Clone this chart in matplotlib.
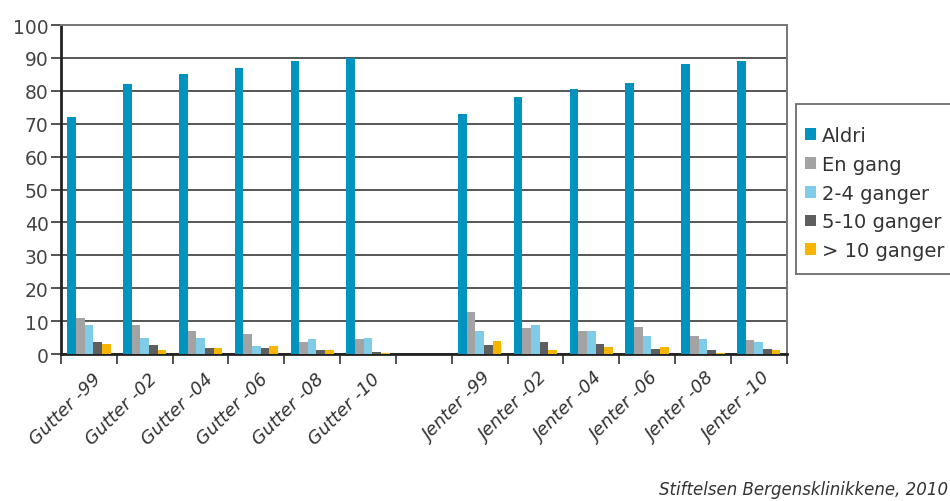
import matplotlib
matplotlib.use("Agg")
import matplotlib.pyplot as plt
import matplotlib.transforms as mtransforms
from matplotlib.patches import Rectangle
import numpy as np

categories = ["Gutter -99", "Gutter -02", "Gutter -04", "Gutter -06", "Gutter -08", "Gutter -10", "",
              "Jenter -99", "Jenter -02", "Jenter -04", "Jenter -06", "Jenter -08", "Jenter -10"]

series_names = ["Aldri", "En gang", "2-4 ganger", "5-10 ganger", "> 10 ganger"]

aldri = [72, 82, 85, 87, 89, 90, 0, 73, 78, 80.5, 82.3, 88.3, 89.2]
en_gang = [10.8, 8.7, 6.9, 6.2, 3.8, 4.5, 0, 12.7, 7.9, 7.0, 8.2, 5.5, 4.3]
to_fire = [8.9, 4.8, 4.8, 2.3, 4.5, 5.0, 0, 7.0, 8.7, 7.0, 5.4, 4.5, 3.8]
fem_ti = [3.8, 2.8, 1.8, 1.8, 1.3, 0.6, 0, 2.8, 3.8, 3.0, 1.5, 1.1, 1.5]
over_ti = [3.0, 1.1, 1.8, 2.3, 1.3, 0.3, 0, 4.0, 1.1, 2.0, 2.0, 0.3, 1.3]

series = [aldri, en_gang, to_fire, fem_ti, over_ti]
colors = ["#0093c0", "#a3a3a3", "#80cbe5", "#5e5e5e", "#f7b500"]

fig = plt.figure(figsize=(9.5, 5.02), dpi=100)
ax = fig.add_axes([0.0642, 0.2928, 0.7638, 0.6552])

x = np.arange(len(categories))
bw = 0.155
handles = []
for i, (vals, col, name) in enumerate(zip(series, colors, series_names)):
    h = ax.bar(x + (i - 2) * bw, vals, width=bw, color=col, label=name, zorder=3, linewidth=0)
    handles.append(h)

ax.set_xlim(-0.5, len(categories) - 0.5)
ax.set_ylim(0, 100)
ax.set_yticks(np.arange(0, 101, 10))
ax.yaxis.grid(True, color="#555555", linewidth=1.4, zorder=0)
ax.set_axisbelow(True)

# category labels, slanted and nudged so their ends sit just right of each group
ax.set_xticks(x)
ax.set_xticklabels(categories, rotation=45, ha="right", va="top", rotation_mode="anchor",
                   fontsize=13, fontstyle="italic", color="#333333")
ax.tick_params(axis="x", which="major", length=0, pad=0)
shift = mtransforms.ScaledTranslation(0.03, -0.15, fig.dpi_scale_trans)
for lbl in ax.get_xticklabels():
    lbl.set_transform(lbl.get_transform() + shift)

# tick marks sit on the boundaries between categories
ax.set_xticks(np.arange(-0.5, len(categories), 1.0), minor=True)
ax.tick_params(axis="x", which="minor", length=7, width=1.3, color="#444444")
ax.tick_params(axis="y", length=7, width=1.3, color="#444444", labelsize=13.5,
               labelcolor="#444444", pad=2)

for s in ["left", "bottom"]:
    ax.spines[s].set_color("#222222")
    ax.spines[s].set_linewidth(2)
for s in ["top", "right"]:
    ax.spines[s].set_color("#777777")
    ax.spines[s].set_linewidth(1.4)

# legend box running off the right edge
fig.patches.append(Rectangle((796 / 950, 1 - 275 / 502), 0.3, 170 / 502,
                             transform=fig.transFigure, facecolor="white",
                             edgecolor="#777777", linewidth=1.4, zorder=0))
leg = fig.legend(handles=handles, labels=series_names, loc="upper left",
                 bbox_to_anchor=(796 / 950, 1 - 118 / 502), borderaxespad=0,
                 fontsize=14, handlelength=0.55, handleheight=0.55, handletextpad=0.3,
                 labelspacing=0.5, borderpad=0.47, frameon=False)
for t in leg.get_texts():
    t.set_color("#333333")

fig.text(0.998, 0.006, "Stiftelsen Bergensklinikkene, 2010", ha="right", va="bottom",
         fontsize=12, fontstyle="italic", color="#333333")

fig.savefig("out.png", dpi=100)
